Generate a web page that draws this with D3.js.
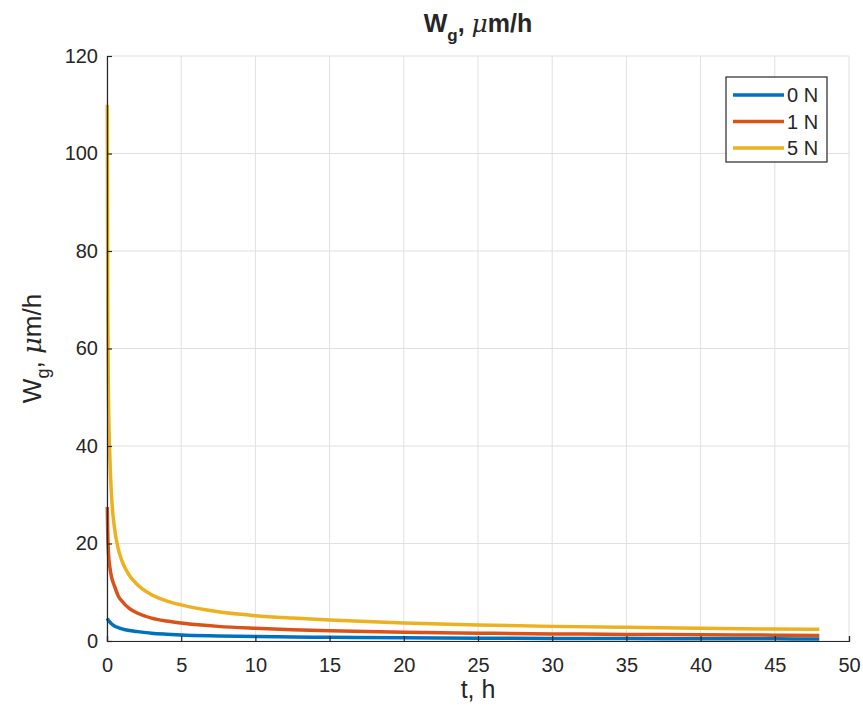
<!DOCTYPE html>
<html>
<head>
<meta charset="utf-8">
<script src="https://cdn.jsdelivr.net/npm/d3@7"></script>
<style>
  body { margin: 0; background: #fff; }
  text { font-family: "Liberation Sans", Arial, sans-serif; fill: #262626; }
</style>
</head>
<body>
<div id="chart"></div>
<script>
// sample times (h) and values
const tHours = [0.02, 0.05, 0.1, 0.2, 0.3, 0.5, 0.75, 1, 1.5, 2, 3, 4, 5, 7.5, 10, 12.5, 15, 20, 25, 30, 35, 40, 45, 48];
const w0N = [4.65, 4.45, 4.2, 3.85, 3.55, 3.1, 2.75, 2.5, 2.15, 1.95, 1.6, 1.4, 1.25, 1.05, 0.9, 0.82, 0.75, 0.65, 0.58, 0.53, 0.5, 0.46, 0.44, 0.42];
const w1N = [27.5, 22, 18, 15, 13.2, 11.3, 9.3, 8.2, 6.7, 5.8, 4.7, 4.1, 3.7, 3.0, 2.6, 2.3, 2.1, 1.8, 1.6, 1.46, 1.35, 1.27, 1.2, 1.15];
const w5N = [110, 68, 50, 37, 30, 23.3, 19, 16.5, 13.5, 11.7, 9.5, 8.25, 7.4, 6.0, 5.2, 4.7, 4.3, 3.7, 3.3, 3.0, 2.8, 2.6, 2.46, 2.4];
const seriesNames = ["0 N", "1 N", "5 N"];
const seriesColors = ["#0072BD", "#D95319", "#EDB120"];
const xTicks = [0, 5, 10, 15, 20, 25, 30, 35, 40, 45, 50];
const yTicks = [0, 20, 40, 60, 80, 100, 120];

const W = 863, H = 709;
const margin = { top: 56, right: 14, bottom: 68, left: 107 };
const width = W - margin.left - margin.right;
const height = H - margin.top - margin.bottom;

const svg = d3.select("#chart").append("svg")
  .attr("width", W).attr("height", H);

const g = svg.append("g")
  .attr("transform", "translate(" + margin.left + "," + margin.top + ")");

const x = d3.scaleLinear().domain([0, 50]).range([0, width]);
const y = d3.scaleLinear().domain([0, 120]).range([height, 0]);

// grid
g.append("g").selectAll("line").data(xTicks).enter().append("line")
  .attr("x1", d => x(d)).attr("x2", d => x(d))
  .attr("y1", 0).attr("y2", height)
  .attr("stroke", "#e0e0e0").attr("stroke-width", 1);
g.append("g").selectAll("line").data(yTicks).enter().append("line")
  .attr("x1", 0).attr("x2", width)
  .attr("y1", d => y(d)).attr("y2", d => y(d))
  .attr("stroke", "#e0e0e0").attr("stroke-width", 1);

// lines
const series = [w0N, w1N, w5N];
const line = d3.line()
  .x((d, i) => x(tHours[i]))
  .y(d => y(d))
  .curve(d3.curveMonotoneX);

series.forEach((vals, k) => {
  g.append("path")
    .datum(vals)
    .attr("fill", "none")
    .attr("stroke", seriesColors[k])
    .attr("stroke-width", 3.5)
    .attr("stroke-linejoin", "round")
    .attr("d", line);
});

// axes (ticks pointing inward)
const xAxis = g.append("g")
  .attr("transform", "translate(0," + height + ")")
  .call(d3.axisBottom(x).tickValues(xTicks).tickSize(-5).tickPadding(17));
const yAxis = g.append("g")
  .call(d3.axisLeft(y).tickValues(yTicks).tickSize(-5).tickPadding(9));

[xAxis, yAxis].forEach(a => {
  a.select(".domain").attr("stroke", "#262626").attr("stroke-width", 1.2);
  a.selectAll(".tick line").attr("stroke", "#262626").attr("stroke-width", 1.2);
  a.selectAll(".tick text")
    .style("font-family", "'Liberation Sans', Arial, sans-serif")
    .style("font-size", "20px").attr("fill", "#3a3a3a");
});

// title
const title = svg.append("text")
  .attr("x", margin.left + width / 2).attr("y", 32)
  .attr("text-anchor", "middle")
  .style("font-size", "25px").style("font-weight", "bold");
title.append("tspan").text("W");
title.append("tspan").attr("dy", 9).style("font-size", "17px").text("g");
title.append("tspan").attr("dy", -9).text(", ");
title.append("tspan").style("font-style", "italic").style("font-family", "'DejaVu Serif', serif").style("font-weight", "normal").text("μ");
title.append("tspan").text("m/h");

// x label
svg.append("text")
  .attr("x", margin.left + width / 2).attr("y", 698)
  .attr("text-anchor", "middle")
  .style("font-size", "25px").attr("fill", "#3a3a3a")
  .text("t, h");

// y label
const ylab = svg.append("text")
  .attr("transform", "translate(41," + (margin.top + height / 2) + ") rotate(-90)")
  .attr("text-anchor", "middle")
  .style("font-size", "26px").attr("fill", "#3a3a3a");
ylab.append("tspan").text("W");
ylab.append("tspan").attr("dy", 8).style("font-size", "18px").text("g");
ylab.append("tspan").attr("dy", -8).text(", ");
ylab.append("tspan").style("font-style", "italic").style("font-family", "'DejaVu Serif', serif").text("μ");
ylab.append("tspan").text("m/h");

// legend
const legend = svg.append("g").attr("transform", "translate(726,77)");
legend.append("rect")
  .attr("width", 101).attr("height", 85)
  .attr("fill", "#fff").attr("stroke", "#262626").attr("stroke-width", 1.2);
seriesNames.forEach((name, k) => {
  const row = legend.append("g").attr("transform", "translate(0," + (18 + k * 26.5) + ")");
  row.append("line")
    .attr("x1", 7).attr("x2", 58)
    .attr("stroke", seriesColors[k]).attr("stroke-width", 3.5);
  row.append("text")
    .attr("x", 61).attr("y", 7)
    .style("font-size", "20px").attr("fill", "#3a3a3a")
    .text(name);
});
</script>
</body>
</html>
